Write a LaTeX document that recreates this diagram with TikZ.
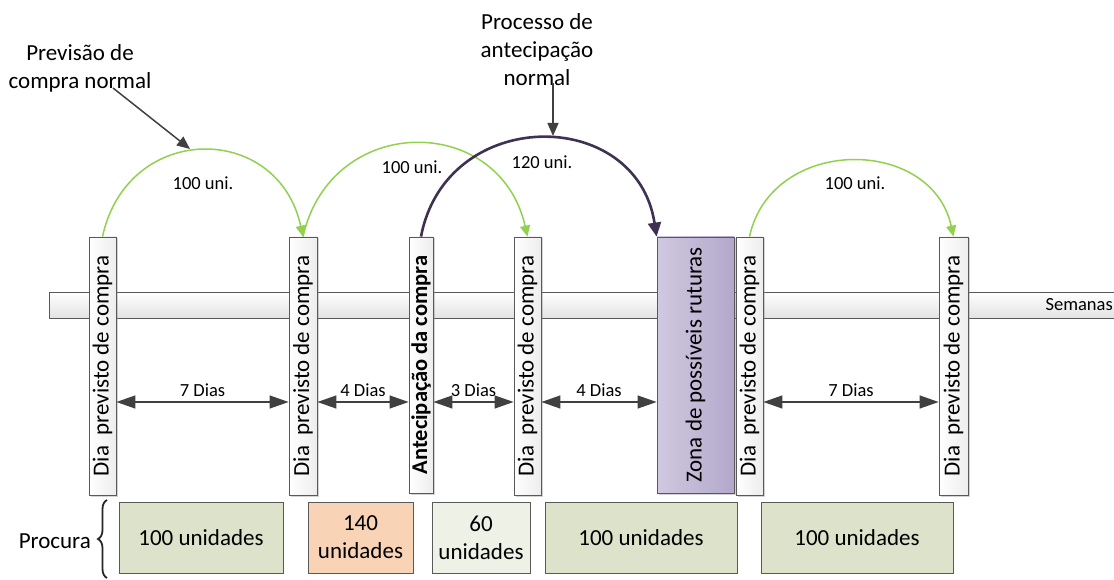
\documentclass[tikz,border=0pt]{standalone}
\usepackage{fontspec}
\setmainfont{Carlito}
\usetikzlibrary{arrows.meta,shadows,decorations.pathreplacing}

\definecolor{arcgreen}{HTML}{92D050}
\definecolor{arcpurple}{HTML}{3F3151}
\definecolor{darkline}{HTML}{404040}
\definecolor{boxline}{HTML}{595959}
\definecolor{olivefill}{HTML}{DDE3CB}
\definecolor{peachfill}{HTML}{F8D3B6}
\definecolor{palefill}{HTML}{EEF1E6}
\definecolor{zonaleft}{HTML}{D0C9E0}
\definecolor{zonaright}{HTML}{B3A8CB}

\begin{document}
\begin{tikzpicture}[x=1pt,y=-1pt,
  bigtext/.style={font=\fontsize{23}{28}\selectfont},
  smalltext/.style={font=\fontsize{18.5}{22}\selectfont},
  timebar/.style={draw=boxline, line width=0.8pt, inner sep=0pt,
    minimum width=1067pt, minimum height=26pt,
    top color=white, bottom color=gray!22},
  daybox/.style={draw=boxline, line width=0.8pt, inner sep=0pt,
    minimum width=27pt, minimum height=258pt,
    left color=white, right color=gray!14,
    drop shadow={shadow xshift=1.5pt, shadow yshift=-1.5pt, opacity=0.35, fill=gray}},
  zonabox/.style={draw=boxline, line width=0.8pt, inner sep=0pt,
    minimum width=77pt, minimum height=256pt,
    left color=zonaleft, right color=zonaright,
    drop shadow={shadow xshift=1.5pt, shadow yshift=-1.5pt, opacity=0.35, fill=gray}},
  vtext/.style={bigtext, rotate=90, inner sep=0pt},
  demand/.style={draw=boxline, line width=0.8pt, minimum height=71pt,
    inner sep=0pt, align=center, bigtext},
  dias/.style={darkline, line width=1.3pt,
    {Triangle[length=19pt,width=13pt]}-{Triangle[length=19pt,width=13pt]}},
  diaslabel/.style={smalltext, text=black, above, inner sep=5pt, pos=0.5},
  greenarc/.style={arcgreen, line width=1.5pt, -{Triangle[length=11pt,width=10pt]}},
  purplearc/.style={arcpurple, line width=2.6pt, -{Triangle[length=14pt,width=13pt]}},
  notearrow/.style={darkline, line width=1.5pt, -{Triangle[length=13pt,width=11pt]}},
  arclabel/.style={smalltext, inner sep=0pt},
  brace/.style={decorate, decoration={brace, amplitude=9pt}, line width=1.8pt, black!85}
]
\useasboundingbox (0,0) rectangle (1114,580);

% time axis
\node[timebar] (axis) at (582.5,305) {};
\node[smalltext, anchor=east, inner sep=0pt] (weeks) at (1113,305) {Semanas};

% purchase days and the stock-out zone
\node[daybox] (b1) at (102.5,366) {};
\node[daybox, minimum width=28pt] (b2) at (303,366) {};
\node[daybox, minimum width=24pt, minimum height=256pt] (b3) at (421,365) {};
\node[daybox] (b4) at (527.5,366) {};
\node[zonabox] (zona) at (695.5,365) {};
\node[daybox] (b5) at (749.5,366) {};
\node[daybox, minimum width=29pt] (b6) at (953.5,366) {};

\node[vtext] (t1) at (b1.center) {Dia\ \ previsto de compra};
\node[vtext] (t2) at (b2.center) {Dia\ \ previsto de compra};
\node[vtext, font=\fontsize{22.5}{26}\selectfont\bfseries] (t3) at (b3.center) {Antecipação da compra};
\node[vtext] (t4) at (b4.center) {Dia\ \ previsto de compra};
\node[vtext] (tz) at (zona.center) {Zona de possíveis ruturas};
\node[vtext] (t5) at (b5.center) {Dia\ \ previsto de compra};
\node[vtext] (t6) at (b6.center) {Dia\ \ previsto de compra};

% day intervals
\coordinate (row) at (0,402);
\draw[dias] (b1.east |- row) -- (b2.west |- row) node[diaslabel] {7 Dias};
\draw[dias] (b2.east |- row) -- (b3.west |- row) node[diaslabel] {4 Dias};
\draw[dias] (b3.east |- row) -- (b4.west |- row) node[diaslabel] {3 Dias};
\draw[dias] (b4.east |- row) -- (zona.west |- row) node[diaslabel] {4 Dias};
\draw[dias] (b5.east |- row) -- (b6.west |- row) node[diaslabel] {7 Dias};

% order arcs
\draw[greenarc] (b1.north) .. controls +(25,-115) and +(-25,-115) .. (b2.north);
\draw[greenarc] (b2.north) .. controls +(28,-124) and +(-28,-124) .. (b4.north);
\draw[purplearc] (b3.north) .. controls +(25,-131) and +(-20,-131) .. (zona.north west);
\draw[greenarc] (b5.north) .. controls +(22,-101) and +(-22,-101) .. (b6.north);

\node[arclabel] (l1) at (203,183) {100 uni.};
\node[arclabel] (l2) at (412,167) {100 uni.};
\node[arclabel] (l3) at (542,162) {120 uni.};
\node[arclabel] (l4) at (855,183) {100 uni.};

% notes
\node[bigtext, align=center, inner sep=0pt] (n1) at (80,68) {Previsão de\\compra normal};
\node[bigtext, align=center, inner sep=0pt] (n2) at (537,50) {Processo de\\antecipação\\normal};
\coordinate (n1s) at (113,88);
\coordinate (n1e) at (190,149);
\coordinate (n2s) at (553,83);
\coordinate (n2e) at (553,136);
\draw[notearrow] (n1s) -- (n1e);
\draw[notearrow] (n2s) -- (n2e);

% demand
\node[demand, fill=olivefill, minimum width=164pt] (d1) at (201,537.5) {100 unidades};
\node[demand, fill=peachfill, minimum width=105pt] (d2) at (360.5,537.5) {140\\unidades};
\node[demand, fill=palefill, minimum width=98pt] (d3) at (481,537.5) {60\\unidades};
\node[demand, fill=olivefill, minimum width=192pt] (d4) at (641,537.5) {100 unidades};
\node[demand, fill=olivefill, minimum width=192pt] (d5) at (857,537.5) {100 unidades};

\coordinate (br1) at (107,578);
\coordinate (br2) at (107,500);
\draw[brace] (br1) -- (br2);
\node[bigtext, anchor=east, inner sep=0pt] (proc) at (91,541) {Procura};
\end{tikzpicture}
\end{document}
